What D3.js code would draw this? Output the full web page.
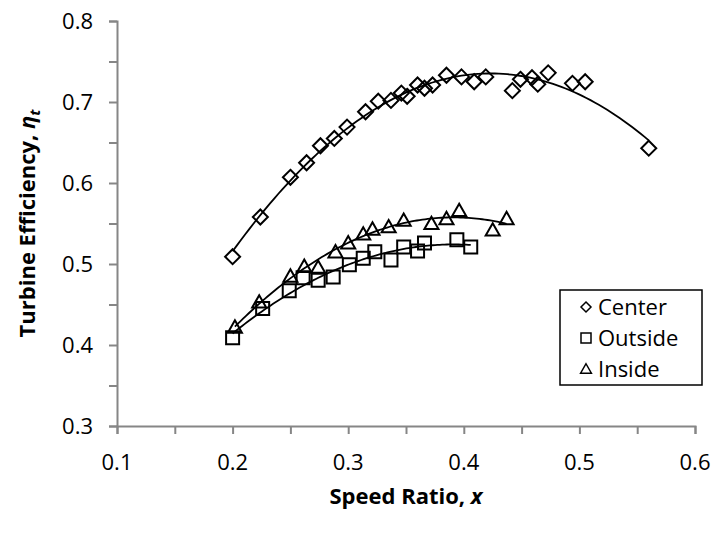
<!DOCTYPE html>
<html lang="en">
<head>
<meta charset="UTF-8">
<title>Turbine Efficiency vs Speed Ratio</title>
<script src="https://d3js.org/d3.v7.min.js"></script>
<style>
  body { margin: 0; background: #fff; }
  text { font-family: "Open Sans", "Liberation Sans", sans-serif; fill: #000; }
</style>
</head>
<body>
<div id="chart"></div>
<script>
// Center (diamonds)
const centerX = [0.200, 0.224, 0.250, 0.264, 0.276, 0.288, 0.299, 0.315, 0.326, 0.337, 0.346, 0.351,
                 0.360, 0.366, 0.373, 0.385, 0.398, 0.409, 0.419, 0.442, 0.449, 0.459, 0.464, 0.473,
                 0.494, 0.505, 0.560];
const centerY = [0.509, 0.558, 0.607, 0.625, 0.646, 0.655, 0.669, 0.688, 0.701, 0.702, 0.711, 0.707,
                 0.721, 0.717, 0.721, 0.733, 0.731, 0.725, 0.731, 0.714, 0.728, 0.730, 0.722, 0.736,
                 0.723, 0.725, 0.643];
// Outside (squares)
const outsideX = [0.200, 0.226, 0.249, 0.261, 0.274, 0.287, 0.301, 0.313, 0.323, 0.337, 0.348, 0.360,
                  0.366, 0.394, 0.406];
const outsideY = [0.409, 0.445, 0.467, 0.483, 0.480, 0.484, 0.499, 0.507, 0.515, 0.505, 0.521, 0.516,
                  0.526, 0.530, 0.521];
// Inside (triangles)
const insideX = [0.202, 0.223, 0.250, 0.262, 0.274, 0.289, 0.300, 0.313, 0.321, 0.335, 0.348, 0.372,
                 0.385, 0.396, 0.425, 0.437];
const insideY = [0.422, 0.453, 0.485, 0.497, 0.496, 0.515, 0.526, 0.537, 0.543, 0.546, 0.554, 0.550,
                 0.556, 0.566, 0.542, 0.556];

const xTicks = [0.1, 0.2, 0.3, 0.4, 0.5, 0.6];
const yTicks = [0.3, 0.4, 0.5, 0.6, 0.7, 0.8];
const seriesNames = ["Center", "Outside", "Inside"];

const width = 715, height = 533;
const axisColor = "#868686";

const svg = d3.select("#chart").append("svg")
    .attr("width", width)
    .attr("height", height);

const x = d3.scaleLinear().domain([0.1, 0.6]).range([117, 695]);
const y = d3.scaleLinear().domain([0.3, 0.8]).range([426, 21]);

// least squares polynomial fit (Excel-style trendline)
function polyFit(xs, ys, order) {
  const n = order + 1;
  const A = [];
  for (let i = 0; i < n; i++) {
    A.push([]);
    for (let j = 0; j < n; j++) A[i].push(d3.sum(xs, v => Math.pow(v, i + j)));
    A[i].push(d3.sum(xs, (v, k) => ys[k] * Math.pow(v, i)));
  }
  for (let c = 0; c < n; c++) {
    for (let r = c + 1; r < n; r++) {
      const f = A[r][c] / A[c][c];
      for (let k = c; k <= n; k++) A[r][k] -= f * A[c][k];
    }
  }
  const coef = new Array(n).fill(0);
  for (let r = n - 1; r >= 0; r--) {
    let s = A[r][n];
    for (let k = r + 1; k < n; k++) s -= A[r][k] * coef[k];
    coef[r] = s / A[r][r];
  }
  return v => coef.reduce((acc, c, i) => acc + c * Math.pow(v, i), 0);
}

// axes
const xAxis = d3.axisBottom(x).tickValues(d3.range(0.1, 0.6001, 0.05)).tickSize(8).tickFormat("");
const yAxis = d3.axisLeft(y).tickValues(d3.range(0.3, 0.8001, 0.05)).tickSize(8).tickFormat("");

const gx = svg.append("g").attr("transform", `translate(0,${y(0.3)})`).call(xAxis);
const gy = svg.append("g").attr("transform", `translate(${x(0.1)},0)`).call(yAxis);
[gx, gy].forEach(g => {
  g.select(".domain").attr("stroke", axisColor).attr("stroke-width", 2);
  g.selectAll(".tick line").attr("stroke", axisColor).attr("stroke-width", 2);
});

svg.selectAll(".xlab").data(xTicks).enter().append("text")
    .attr("x", d => x(d))
    .attr("y", y(0.3) + 44)
    .attr("text-anchor", "middle")
    .style("font-size", "22px")
    .text(d3.format(".1f"));

svg.selectAll(".ylab").data(yTicks).enter().append("text")
    .attr("x", x(0.1) - 24)
    .attr("y", d => y(d) + 8)
    .attr("text-anchor", "end")
    .style("font-size", "22px")
    .text(d3.format(".1f"));

// axis titles
const xt = svg.append("text")
    .attr("x", (x(0.1) + x(0.6)) / 2)
    .attr("y", 504)
    .attr("text-anchor", "middle")
    .style("font-size", "22px")
    .style("font-weight", "bold");
xt.append("tspan").text("Speed Ratio, ");
xt.append("tspan").style("font-style", "italic").text("x");

const yt = svg.append("text")
    .attr("transform", `translate(35,${(y(0.3) + y(0.8)) / 2}) rotate(-90)`)
    .attr("text-anchor", "middle")
    .style("font-size", "22px")
    .style("font-weight", "bold");
yt.append("tspan").text("Turbine Efficiency, ");
yt.append("tspan").style("font-style", "italic").text("η");
yt.append("tspan").style("font-style", "italic").style("font-size", "15px").attr("dy", 5).text("t");

// marker shapes
const shapes = {
  Center: s => `M0,${-s}L${s},0L0,${s}L${-s},0Z`,
  Outside: s => `M${-s},${-s}H${s}V${s}H${-s}Z`,
  Inside: s => `M0,${-s * 1.05}L${s * 1.08},${s * 0.85}H${-s * 1.08}Z`
};
const markerSize = { Center: 7.5, Outside: 6.5, Inside: 6.5 };

const series = [
  { name: "Center", xs: centerX, ys: centerY },
  { name: "Outside", xs: outsideX, ys: outsideY },
  { name: "Inside", xs: insideX, ys: insideY }
];

series.forEach(s => {
  const pts = s.xs.map((v, i) => [v, s.ys[i]]);
  svg.append("g").selectAll("path").data(pts).enter().append("path")
      .attr("d", shapes[s.name](markerSize[s.name]))
      .attr("transform", d => `translate(${x(d[0])},${y(d[1])})`)
      .attr("fill", "none")
      .attr("stroke", "#000")
      .attr("stroke-width", 2);
});

// trend lines
const line = d3.line().x(d => x(d[0])).y(d => y(d[1]));
series.forEach(s => {
  const f = polyFit(s.xs, s.ys, 2);
  const [x0, x1] = d3.extent(s.xs);
  const pts = d3.range(0, 101).map(i => { const v = x0 + (x1 - x0) * i / 100; return [v, f(v)]; });
  svg.append("path")
      .datum(pts)
      .attr("d", line)
      .attr("fill", "none")
      .attr("stroke", "#000")
      .attr("stroke-width", 1.8);
});

// legend
const lg = svg.append("g");
lg.append("rect")
    .attr("x", 560).attr("y", 290).attr("width", 142).attr("height", 95)
    .attr("fill", "#fff").attr("stroke", "#000").attr("stroke-width", 1.5);
seriesNames.forEach((name, i) => {
  const cy = 307 + i * 31;
  lg.append("path")
      .attr("d", shapes[name](5))
      .attr("transform", `translate(586,${cy})`)
      .attr("fill", "none").attr("stroke", "#000").attr("stroke-width", 1.5);
  lg.append("text")
      .attr("x", 598).attr("y", cy + 8)
      .style("font-size", "22px")
      .text(name);
});
</script>
</body>
</html>
